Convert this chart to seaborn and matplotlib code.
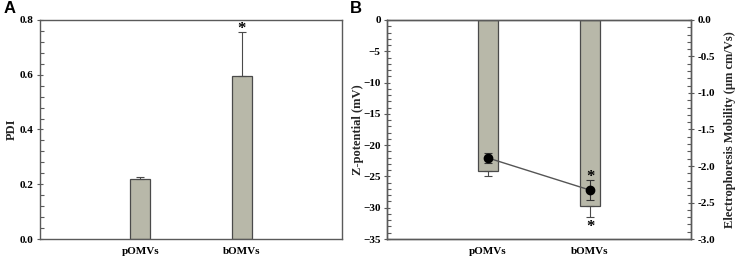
import numpy as np
import matplotlib
matplotlib.use('Agg')
import matplotlib.pyplot as plt
import pandas as pd
import seaborn as sns
from matplotlib.ticker import MultipleLocator, FormatStrFormatter

# dati
cats = ['pOMVs', 'bOMVs']
pdi = [0.218, 0.597]
pdi_err = [0.010, 0.158]
zeta = [-24.2, -29.7]
zeta_err = [0.8, 1.8]
mob = [-1.89, -2.33]
mob_err = [0.065, 0.14]

sns.set_style('ticks')
plt.rcParams['font.family'] = ['Liberation Serif', 'DejaVu Serif']
plt.rcParams['font.weight'] = 'bold'
plt.rcParams['axes.labelweight'] = 'bold'
plt.rcParams['text.color'] = 'black'

bar_col = '#b8b8a9'
edge_col = '#4a4a4a'
spine_col = '#5a5a5a'

fig = plt.figure(figsize=(7.37, 2.59), dpi=100)
ax1 = fig.add_axes([0.0543, 0.0772, 0.4098, 0.8456])
ax2 = fig.add_axes([0.5251, 0.0772, 0.4125, 0.8456])


def stile(ax, major, minor):
    ax.yaxis.set_major_locator(MultipleLocator(major))
    ax.yaxis.set_minor_locator(MultipleLocator(minor))
    ax.tick_params(axis='y', which='major', direction='inout', length=5, width=0.8,
                   color=spine_col, labelsize=8, pad=2, labelcolor='black')
    ax.tick_params(axis='y', which='minor', direction='in', length=3, width=0.8,
                   color=spine_col)
    ax.tick_params(axis='x', length=0, labelsize=8, pad=6, labelcolor='black')
    for lab in ax.get_yticklabels() + ax.get_xticklabels():
        lab.set_fontweight('bold')
    for s in ax.spines.values():
        s.set_color(spine_col)
        s.set_linewidth(1.0)


def stella(ax, x, y, dy):
    # asterisco di significativita, spostato in punti rispetto al cap
    ax.annotate('*', (x, y), xytext=(0, dy), textcoords='offset points',
                ha='center', va='baseline', fontsize=12, fontweight='bold')


# A: PDI
df_a = pd.DataFrame({'cat': cats, 'pdi': pdi})
sns.barplot(data=df_a, x='cat', y='pdi', ax=ax1, color=bar_col, width=0.2,
            edgecolor=edge_col, linewidth=0.9, errorbar=None, saturation=1)
ax1.errorbar(range(len(cats)), pdi, yerr=[np.zeros(2), pdi_err], fmt='none',
             ecolor=edge_col, elinewidth=0.8, capsize=3, capthick=0.8)
stella(ax1, 1, pdi[1] + pdi_err[1], -0.5)
ax1.set_xlim(-0.99, 1.99)
ax1.set_ylim(0, 0.8)
stile(ax1, 0.2, 0.04)
ax1.yaxis.set_major_formatter(FormatStrFormatter('%.1f'))
ax1.set_xlabel('')
ax1.set_ylabel('PDI', fontsize=9, va='center')
ax1.yaxis.set_label_coords(-0.093, 0.5)
fig.text(0.005, 0.995, 'A', fontsize=12, fontweight='bold', va='top',
         family=['Liberation Sans', 'DejaVu Sans'])

# B: Z-potential + mobilita
df_b = pd.DataFrame({'cat': cats, 'zeta': zeta})
sns.barplot(data=df_b, x='cat', y='zeta', ax=ax2, color=bar_col, width=0.2,
            edgecolor=edge_col, linewidth=0.9, errorbar=None, saturation=1)
ax2.errorbar(range(len(cats)), zeta, yerr=[zeta_err, np.zeros(2)], fmt='none',
             ecolor=edge_col, elinewidth=0.8, capsize=3, capthick=0.8)
stella(ax2, 1, zeta[1] - zeta_err[1], -10)
ax2.set_xlim(-0.99, 1.99)
ax2.set_ylim(-35, 0)
stile(ax2, 5, 1)
ax2.set_xlabel('')
ax2.set_ylabel('Z-potential (mV)', fontsize=9, va='center')
ax2.yaxis.set_label_coords(-0.095, 0.5)

ax3 = ax2.twinx()
df_m = pd.DataFrame({'x': [0, 1], 'mob': mob})
sns.lineplot(data=df_m, x='x', y='mob', ax=ax3, color='#555555', linewidth=1.0)
ax3.errorbar([0, 1], mob, yerr=mob_err, fmt='o', color='black', ms=6,
             ecolor='#333333', elinewidth=0.8, capsize=3, capthick=0.8)
stella(ax3, 1, mob[1] + mob_err[1], -0.5)
ax3.set_ylim(-3.0, 0.0)
ax3.set_xlim(-0.99, 1.99)
stile(ax3, 0.5, 0.1)
ax3.yaxis.set_major_formatter(FormatStrFormatter('%.1f'))
ax3.set_ylabel('Electrophoresis Mobility (μm cm/Vs)', fontsize=9, va='center')
ax3.yaxis.set_label_coords(1.128, 0.5)
ax3.set_xlabel('')
fig.text(0.475, 0.995, 'B', fontsize=12, fontweight='bold', va='top',
         family=['Liberation Sans', 'DejaVu Sans'])

fig.savefig('out.png', dpi=100)
